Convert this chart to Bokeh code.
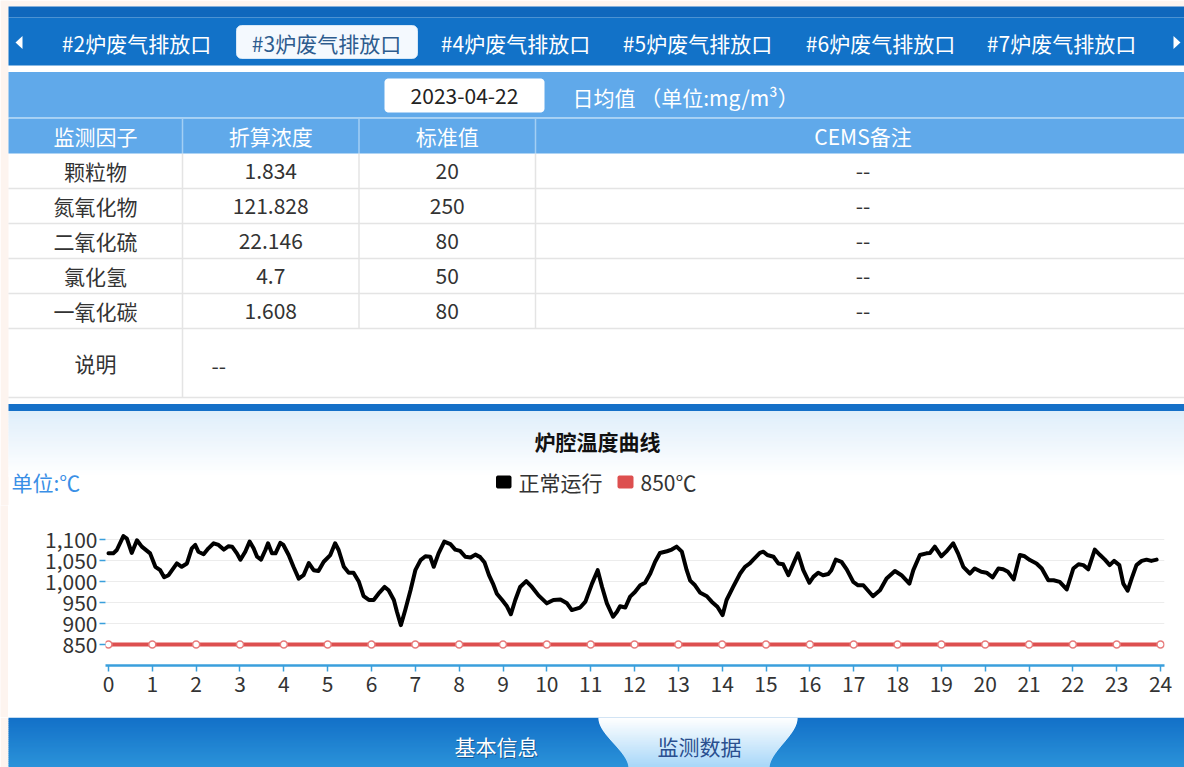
import numpy as np
from bokeh.plotting import figure
from bokeh.layouts import column, row
from bokeh.models import Range1d, FixedTicker, NumeralTickFormatter
from bokeh.core.properties import value
from bokeh.embed import file_html
from bokeh.resources import INLINE

# ---------------- data ----------------
station_tabs = ["#2炉废气排放口", "#3炉废气排放口", "#4炉废气排放口",
                "#5炉废气排放口", "#6炉废气排放口", "#7炉废气排放口"]
active_tab = "#3炉废气排放口"
report_date = "2023-04-22"
report_unit = "日均值 （单位:mg/m³）"
table_headers = ["监测因子", "折算浓度", "标准值", "CEMS备注"]
factors = ["颗粒物", "氮氧化物", "二氧化硫", "氯化氢", "一氧化碳"]
converted_values = ["1.834", "121.828", "22.146", "4.7", "1.608"]
standard_values = ["20", "250", "80", "50", "80"]
cems_remarks = ["--", "--", "--", "--", "--"]
remark_label = "说明"
remark_text = "--"
chart_title = "炉腔温度曲线"
y_unit_label = "单位:℃"
series_names = ["正常运行", "850℃"]

hours = [0.00, 0.11, 0.19, 0.34, 0.42, 0.53, 0.65, 0.76, 0.88, 0.95,
         1.07, 1.18, 1.27, 1.37, 1.56, 1.67, 1.79, 1.90, 1.98, 2.05,
         2.17, 2.28, 2.40, 2.51, 2.63, 2.74, 2.82, 2.93, 3.01, 3.12,
         3.22, 3.31, 3.39, 3.48, 3.58, 3.64, 3.73, 3.81, 3.92, 3.99,
         4.11, 4.22, 4.34, 4.45, 4.57, 4.68, 4.79, 4.91, 5.06, 5.17,
         5.25, 5.37, 5.48, 5.59, 5.71, 5.82, 5.94, 6.05, 6.16, 6.30,
         6.39, 6.51, 6.58, 6.67, 6.77, 6.89, 7.00, 7.12, 7.23, 7.34,
         7.42, 7.53, 7.66, 7.80, 7.91, 8.02, 8.14, 8.26, 8.37, 8.48,
         8.58, 8.68, 8.77, 8.86, 8.98, 9.09, 9.18, 9.28, 9.39, 9.53,
         9.66, 9.81, 10.00, 10.15, 10.31, 10.46, 10.57, 10.76, 10.88, 11.03,
         11.16, 11.26, 11.37, 11.51, 11.60, 11.67, 11.79, 11.90, 12.01, 12.13,
         12.24, 12.36, 12.47, 12.58, 12.74, 12.85, 12.96, 13.08, 13.19, 13.27,
         13.38, 13.50, 13.65, 13.76, 13.89, 14.01, 14.10, 14.25, 14.41, 14.52,
         14.63, 14.71, 14.86, 14.94, 15.03, 15.17, 15.28, 15.39, 15.51, 15.66,
         15.73, 15.85, 15.99, 16.08, 16.19, 16.30, 16.42, 16.49, 16.59, 16.72,
         16.84, 16.99, 17.10, 17.22, 17.33, 17.44, 17.60, 17.75, 17.94, 18.09,
         18.27, 18.36, 18.51, 18.66, 18.74, 18.85, 19.00, 19.11, 19.27, 19.38,
         19.50, 19.65, 19.76, 19.91, 20.03, 20.17, 20.30, 20.41, 20.52, 20.65,
         20.79, 20.90, 21.02, 21.17, 21.29, 21.44, 21.56, 21.70, 21.86, 22.01,
         22.13, 22.24, 22.35, 22.50, 22.62, 22.73, 22.84, 22.94, 23.06, 23.15,
         23.25, 23.34, 23.45, 23.57, 23.68, 23.79, 23.91]
furnace_temp = [1067, 1067, 1075, 1108, 1102, 1068, 1098, 1083, 1073, 1067,
                1035, 1027, 1010, 1015, 1043, 1035, 1043, 1079, 1087, 1071,
                1065, 1079, 1091, 1087, 1076, 1084, 1083, 1067, 1052, 1071,
                1095, 1079, 1059, 1052, 1075, 1091, 1067, 1067, 1092, 1087,
                1063, 1035, 1007, 1015, 1044, 1027, 1025, 1047, 1063, 1091,
                1075, 1035, 1021, 1021, 1000, 965, 956, 956, 971, 987,
                979, 956, 928, 896, 932, 979, 1027, 1051, 1060, 1059,
                1035, 1067, 1095, 1089, 1076, 1073, 1059, 1057, 1064, 1058,
                1045, 1015, 995, 971, 956, 941, 922, 956, 987, 1001,
                987, 967, 948, 956, 957, 948, 932, 938, 952, 995,
                1027, 987, 948, 916, 928, 941, 938, 964, 975, 991,
                997, 1019, 1047, 1068, 1072, 1076, 1083, 1071, 1027, 1002,
                991, 973, 965, 952, 940, 920, 956, 987, 1019, 1035,
                1043, 1052, 1068, 1071, 1063, 1059, 1043, 1041, 1015, 1051,
                1067, 1027, 997, 1011, 1021, 1015, 1018, 1027, 1052, 1047,
                1029, 999, 991, 991, 978, 965, 979, 1007, 1025, 1015,
                995, 1027, 1063, 1067, 1068, 1083, 1060, 1071, 1091, 1067,
                1035, 1019, 1031, 1023, 1021, 1010, 1031, 1029, 1023, 1005,
                1063, 1060, 1051, 1043, 1031, 1003, 1003, 999, 981, 1031,
                1041, 1039, 1029, 1076, 1063, 1052, 1039, 1049, 1039, 995,
                978, 1007, 1039, 1049, 1052, 1049, 1052]
limit_hours = list(range(0, 25))
limit_temp = [850] * 25
y_tick_values = [850, 900, 950, 1000, 1050, 1100]
x_tick_values = list(range(0, 25))
bottom_tabs = ["基本信息", "监测数据"]

# ---------------- helpers ----------------
FONT = value("Noto Sans CJK SC")
FS = value("21px")
PAGE_W = 1184
CL = 8            # content left edge
MARGIN_COLOR = "#fdf4ef"


def mix(c0, c1, t):
    a = [int(c0[i:i + 2], 16) for i in (1, 3, 5)]
    b = [int(c1[i:i + 2], 16) for i in (1, 3, 5)]
    return "#%02x%02x%02x" % tuple(int(round(a[k] + (b[k] - a[k]) * t)) for k in range(3))


def deco_fig(y0, y1):
    p = figure(width=PAGE_W, height=y1 - y0, x_range=Range1d(0, PAGE_W),
               y_range=Range1d(y1, y0), output_backend="svg",
               toolbar_location=None, tools="", x_axis_location=None,
               y_axis_location=None, min_border=0, frame_align=False)
    p.xgrid.visible = False
    p.ygrid.visible = False
    p.outline_line_color = None
    p.background_fill_color = "white"
    p.border_fill_color = "white"
    p.quad(left=0, right=CL, top=y0, bottom=y1, fill_color=MARGIN_COLOR, line_color=None)
    return p


def vgrad(p, x0, x1, y0, y1, c0, c1, n=30):
    ys = np.linspace(y0, y1, n + 1)
    cols = [mix(c0, c1, (i + 0.5) / n) for i in range(n)]
    p.quad(left=x0, right=x1, top=ys[:-1], bottom=ys[1:] + 0.6,
           fill_color=cols, line_color=None)


def rrect(x0, y0, x1, y1, r, n=8):
    xs, ys = [], []
    for cx, cy, a0 in [(x1 - r, y0 + r, -90), (x1 - r, y1 - r, 0),
                       (x0 + r, y1 - r, 90), (x0 + r, y0 + r, 180)]:
        for a in np.radians(np.linspace(a0, a0 + 90, n)):
            xs.append(cx + r * np.cos(a))
            ys.append(cy + r * np.sin(a))
    return xs, ys


def txt(p, x, y, t, color="#333333", align="center", size=FS, style="normal", alpha=1.0):
    p.text(x=x, y=y, text=t, text_font=FONT, text_font_size=size,
           text_color=color, text_align=align, text_baseline="middle",
           text_font_style=style, text_alpha=alpha)

# ---------------- top: tabs + table + chart header ----------------
pa = deco_fig(0, 505)
pa.quad(left=0, right=PAGE_W, top=0, bottom=6, fill_color=MARGIN_COLOR, line_color=None)
pa.quad(left=CL, right=PAGE_W, top=6, bottom=17, fill_color="#0f67bc", line_color=None)
pa.quad(left=CL, right=PAGE_W, top=17, bottom=65, fill_color="#1272c8", line_color=None)
pa.patches(xs=[[15, 22, 22], [1173, 1180, 1173]], ys=[[42, 35.5, 48.5], [35.5, 42, 48.5]],
           fill_color="white", line_color=None)
tab_cx = [136, 326, 515, 697, 880, 1061]
ax, ay = rrect(236, 25, 417, 58, 5)
pa.patch(ax, ay, fill_color="#f4f9fe", line_color="#d6e8f7", line_width=1)
tab_colors = ["#2d5c8e" if t == active_tab else "white" for t in station_tabs]
txt(pa, tab_cx, [42] * len(station_tabs), station_tabs, color=tab_colors)

# date bar
pa.quad(left=CL, right=PAGE_W, top=71.5, bottom=117, fill_color="#60a9ea", line_color=None)
pa.quad(left=CL, right=PAGE_W, top=117, bottom=118.5, fill_color="#a3cff4", line_color=None)
pa.quad(left=CL, right=PAGE_W, top=118.5, bottom=153, fill_color="#60a9ea", line_color=None)
dx, dy = rrect(384, 78, 544, 112, 4)
pa.patch(dx, dy, fill_color="white", line_color=None)
txt(pa, [464], [95.5], [report_date], color="#222222")
txt(pa, [572], [96.5], [report_unit], color="white", align="left")

# table
col_edges = [8, 182, 358.5, 535, 1190]
col_cx = [(col_edges[i] + col_edges[i + 1]) / 2 for i in range(4)]
pa.segment(x0=col_edges[1:4], y0=[118.5] * 3, x1=col_edges[1:4], y1=[153] * 3,
           line_color="#a3cff4", line_width=1.5)
txt(pa, col_cx, [135.5] * 4, table_headers, color="white")

row_h = 35
n_rows = len(factors)
row_cy = [153 + row_h * (i + 0.5) for i in range(n_rows)]
row_lines = [153 + row_h * (i + 1) for i in range(n_rows)] + [397]
pa.segment(x0=[CL] * len(row_lines), y0=row_lines, x1=[PAGE_W] * len(row_lines), y1=row_lines,
           line_color="#e4e4e4", line_width=1.5)
pa.segment(x0=col_edges[1:4] + [182], y0=[153] * 3 + [328], x1=col_edges[1:4] + [182],
           y1=[328] * 3 + [397], line_color="#e4e4e4", line_width=1.5)
for ci, col in enumerate([factors, converted_values, standard_values, cems_remarks]):
    txt(pa, [col_cx[ci]] * n_rows, row_cy, col, color="#333333")
txt(pa, [col_cx[0]], [362.5], [remark_label], color="#333333")
txt(pa, [211], [365], [remark_text], color="#333333", align="left")

# separator + chart header
pa.quad(left=CL, right=PAGE_W, top=403.5, bottom=410.5, fill_color="#1570c8", line_color=None)
vgrad(pa, CL, PAGE_W, 410.5, 476, "#dfeefa", "#ffffff", 40)
txt(pa, [597], [440], [chart_title], color="#111111", style="bold")
txt(pa, [11], [481], [y_unit_label], color="#3a8fe6", align="left")
lx, ly = rrect(495.5, 475, 511, 488, 2)
pa.patch(lx, ly, fill_color="#000000", line_color=None)
rx, ry = rrect(617, 475, 633, 488, 2)
pa.patch(rx, ry, fill_color="#dd4f4f", line_color=None)
txt(pa, [518, 640], [481, 481], series_names, color="#333333", align="left")

# ---------------- chart ----------------
margin_strip = figure(width=CL, height=212, output_backend="svg", toolbar_location=None,
                      tools="", x_axis_location=None, y_axis_location=None,
                      min_border=0, frame_align=False)
margin_strip.xgrid.visible = False
margin_strip.ygrid.visible = False
margin_strip.outline_line_color = None
margin_strip.background_fill_color = MARGIN_COLOR
margin_strip.border_fill_color = MARGIN_COLOR

pb = figure(width=PAGE_W - CL, height=212, x_range=Range1d(-0.068, 24.09),
            y_range=Range1d(800, 1150),
            output_backend="svg", toolbar_location=None, tools="", frame_align=False,
            min_border_left=97, min_border_right=20, min_border_top=13, min_border_bottom=52)
pb.outline_line_color = None
pb.background_fill_color = "white"
pb.border_fill_color = "white"
pb.xgrid.visible = False
pb.ygrid.ticker = FixedTicker(ticks=list(range(850, 1151, 50)))
pb.ygrid.grid_line_color = "#ececec"
pb.ygrid.grid_line_width = 1

pb.xaxis.ticker = FixedTicker(ticks=x_tick_values)
pb.xaxis.axis_line_color = "#3a9fdc"
pb.xaxis.axis_line_width = 2.5
pb.xaxis.major_tick_line_color = "#3a9fdc"
pb.xaxis.major_tick_line_width = 1.5
pb.xaxis.major_tick_out = 6
pb.xaxis.major_tick_in = 0
pb.xaxis.minor_tick_line_color = None
pb.xaxis.major_label_standoff = 4

pb.yaxis.ticker = FixedTicker(ticks=y_tick_values)
pb.yaxis.formatter = NumeralTickFormatter(format="0,0")
pb.yaxis.axis_line_color = None
pb.yaxis.major_tick_line_color = "#3a9fdc"
pb.yaxis.major_tick_line_width = 1.5
pb.yaxis.major_tick_out = 6
pb.yaxis.major_tick_in = 0
pb.yaxis.minor_tick_line_color = None
pb.yaxis.major_label_standoff = 2

for ax_ in (pb.xaxis, pb.yaxis):
    ax_.major_label_text_font = "Noto Sans CJK SC"
    ax_.major_label_text_font_size = "21px"
    ax_.major_label_text_color = "#333333"

pb.line(limit_hours, limit_temp, line_color="#dd4f4f", line_width=4)
pb.scatter(limit_hours, limit_temp, marker="circle", size=7, fill_color="white",
           line_color="#e77b7b", line_width=1.5)
pb.line(hours, furnace_temp, line_color="black", line_width=4, line_join="round",
        line_cap="round")

# ---------------- bottom tab bar ----------------
pc = deco_fig(717, 767)
vgrad(pc, CL, PAGE_W, 717, 767, "#1270c8", "#2b93d9", 25)
ys = np.linspace(717, 767, 51)
u = (ys - 717) / 50.0
s = 3 * u ** 2 - 2 * u ** 3
lefts = 598 + 30 * s
rights = 797 - 28 * s
tcols = [mix("#ffffff", "#a6d6f8", t) for t in u[:-1]]
pc.quad(left=lefts[:-1], right=rights[:-1], top=ys[:-1], bottom=ys[1:] + 0.6,
        fill_color=tcols, line_color=None)
txt(pc, [497], [746.5], [bottom_tabs[0]], color="#0b3566", alpha=0.6)
txt(pc, [496], [745.5], [bottom_tabs[0]], color="white")
txt(pc, [699], [745.5], [bottom_tabs[1]], color="#2a4f8f")

layout = column(pa, row(margin_strip, pb, spacing=0), pc, spacing=0)
open("out.html", "w").write(file_html(layout, INLINE))
